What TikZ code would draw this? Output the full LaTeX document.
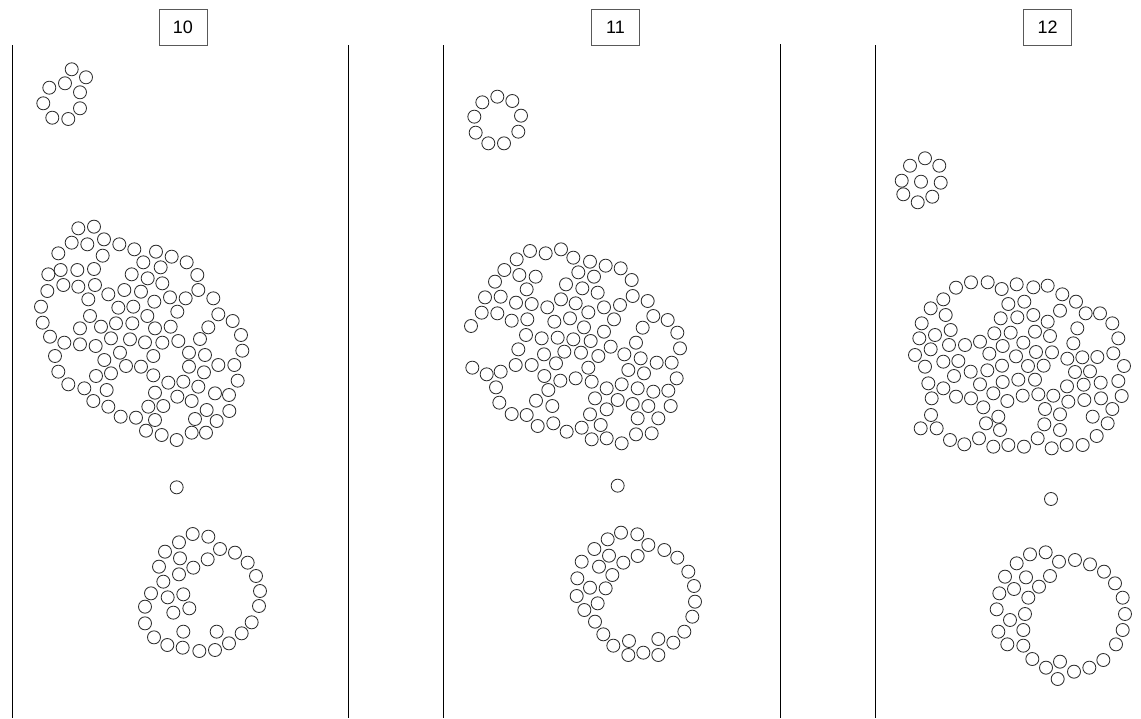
\documentclass[tikz,border=0pt]{standalone}
\usepackage{fontspec}
\setmainfont{Liberation Sans}
\usepackage{tikz}
\usetikzlibrary{positioning}
\definecolor{ballgray}{rgb}{0.18,0.18,0.18}
\definecolor{boxgray}{rgb}{0.35,0.35,0.35}

\tikzset{
  ball/.style={draw=ballgray, line width=0.85pt},
  panel/.style={draw=black, line width=0.9pt},
  stamp/.style={draw=boxgray, line width=0.8pt, minimum width=48pt, minimum height=36pt,
    inner sep=0pt, font=\fontsize{18}{21}\selectfont},
  zoomed/.style={x=0.33333pt, y=-0.33333pt}
}

\begin{document}
\begin{tikzpicture}[x=1pt, y=-1pt]
  \useasboundingbox (0,0) rectangle (1141,718);
  % Frame numbers
  \node[stamp] (lab10) at (183,27) {10};
  \node[stamp] (lab11) at (615.5,27) {11};
  \node[stamp] (lab12) at (1047.5,27) {12};
  % Panel borders
  \draw[panel] (12,45) -- (12,718);
  \draw[panel] (348,45) -- (348,718);
  \draw[panel] (443,45) -- (443,718);
  \draw[panel] (780,44) -- (780,718);
  \draw[panel] (875,45) -- (875,718);

  % ---------------- frame 10 ----------------
  \foreach \point in {(71.7,69.3), (86,77.3), (65,83.3), (49.3,87.7), (80,92.3),
      (43.3,103.3), (80,108.3), (52.3,117.7), (68.3,119)} {
    \draw[ball] \point circle (6.5pt);
  }
  \begin{scope}[shift={(25pt,-210pt)}, zoomed]
    \foreach \point in {(160,55), (207,50), (140,98), (187,103), (237,88),
        (283,103), (328,118), (100,130), (233,137), (393,125), (440,140), (485,157),
        (355,157), (407,172), (517,195), (107,180), (157,180), (207,177), (70,193),
        (320,193), (368,205), (412,220), (67,243), (115,225), (160,230), (210,225),
        (250,253), (298,240), (348,245), (520,240), (565,265),
        (190,268), (280,293), (325,290), (388,275), (435,262), (482,265), (48,290),
        (195,318), (367,318), (457,305), (580,313), (623,333), (53,338),
        (165,355), (228,350), (273,340), (322,340), (390,355), (437,350),
        (550,352), (648,375), (75,380), (118,398), (165,403), (212,408), (258,385),
        (315,388), (360,397), (412,398), (460,393), (525,387),
        (90,438), (238,450), (285,428), (385,438), (492,428), (540,435), (652,422),
        (303,468), (348,470), (580,465), (628,465), (492,470), (537,487),
        (100,485), (213,498), (258,490), (385,496), (430,518), (475,515), (520,530),
        (638,512), (130,523), (178,535), (245,540), (390,548), (457,560), (500,573),
        (570,550), (612,555), (205,573), (250,590), (370,590), (415,588), (545,600),
        (613,603), (287,620), (333,623), (390,630), (510,627), (575,633),
        (363,662), (410,675), (455,690), (500,668), (543,668)} {
      \draw[ball] \point circle (6.5pt);
    }
  \end{scope}
  \begin{scope}[shift={(130pt,-470pt)}, zoomed]
    \draw[ball] (140,52) circle (6.5pt);
    \foreach \point in {(188,192), (235,200), (147,217), (270,237), (315,248),
        (105,245), (150,265), (233,268), (353,278), (87,290), (190,293), (378,318),
        (147,313), (100,335), (390,363), (63,370), (113,382), (160,373),
        (45,410), (130,428), (178,415), (387,408), (45,460), (160,485), (260,485),
        (365,457), (72,502), (335,490), (112,525), (158,533), (208,543), (255,540),
        (297,520)} {
      \draw[ball] \point circle (6.5pt);
    }
  \end{scope}

  % ---------------- frame 11 ----------------
  \begin{scope}[shift={(430pt,0pt)}, zoomed]
    \foreach \point in {(202,290), (157,307), (247,303), (133,350), (273,347),
        (137,398), (265,395), (175,430), (222,430)} {
      \draw[ball] \point circle (6.5pt);
    }
  \end{scope}
  \begin{scope}[shift={(455pt,-235pt)}, zoomed]
    \foreach \point in {(225,48), (272,55), (318,43), (185,73), (355,68), (405,80),
        (452,92), (497,100), (148,105), (193,120), (242,125), (370,112), (417,125),
        (530,135), (120,140), (215,163), (333,148), (382,160), (428,173),
        (90,187), (137,185), (183,203), (230,207), (277,217), (318,193), (362,205),
        (447,217), (495,210), (533,183), (578,198),
        (80,233), (127,235), (170,257), (217,253), (298,260), (345,250), (400,232),
        (477,253), (595,243), (638,255), (48,273), (387,277), (447,290), (563,278),
        (667,293), (213,300), (260,310), (308,308), (355,313), (407,318), (467,335),
        (543,323), (190,343), (267,358), (328,350), (378,353), (430,363), (508,358),
        (557,370), (675,340), (52,398), (95,418), (137,410), (182,390), (230,390),
        (303,385), (400,398), (520,405), (567,415), (605,383), (650,383),
        (123,457), (268,423), (316,437), (362,430), (410,440), (455,460), (500,448),
        (548,460), (595,470), (640,467), (665,430), (280,465),
        (133,503), (243,497), (292,513), (420,490), (488,495), (533,507), (580,513),
        (647,513), (170,537), (215,540), (405,538), (455,523),
        (248,573), (295,565), (335,590), (380,578), (437,570), (548,550), (610,550),
        (410,613), (455,610), (500,625), (543,598), (590,595)} {
      \draw[ball] \point circle (6.5pt);
    }
  \end{scope}
  \begin{scope}[shift={(560pt,-470pt)}, zoomed]
    \draw[ball] (173,47) circle (6.5pt);
    \foreach \point in {(183,188), (232,193), (143,208), (265,225), (313,240),
        (103,237), (147,257), (190,278), (233,258), (352,263), (65,275), (117,290),
        (157,315), (385,305), (52,325), (90,353), (137,355), (402,348),
        (50,378), (113,400), (405,395), (73,420), (397,440), (105,455), (373,485),
        (130,493), (340,518), (160,527), (207,513), (295,507), (205,555), (250,548),
        (295,555)} {
      \draw[ball] \point circle (6.5pt);
    }
  \end{scope}

  % ---------------- frame 12 ----------------
  \foreach \point in {(925,158.3), (910,165.7), (939.3,165.7), (901.7,180.7),
      (921,181.7), (940.7,182.7), (903.3,194.3), (932.3,196.7), (917.7,202.3)} {
    \draw[ball] \point circle (6.5pt);
  }
  \begin{scope}[shift={(900pt,-265pt)}, zoomed]
    \foreach \point in {(213,52), (263,52), (168,68), (305,72), (350,58), (400,67),
        (443,62), (487,88), (528,110), (130,103), (325,117), (373,110),
        (92,130), (137,150), (302,160), (352,157), (400,150), (443,170), (480,137),
        (557,145), (600,145), (637,175), (65,175), (152,195), (283,205), (332,203),
        (405,200), (450,213), (532,190), (58,220), (105,210), (147,240), (195,240),
        (240,230), (308,243), (370,233), (520,235), (655,220),
        (45,270), (92,253), (130,290), (175,288), (268,266), (348,274), (408,261),
        (456,262), (502,281), (547,277), (592,276), (640,265),
        (75,305), (162,333), (212,320), (262,316), (306,302), (384,303), (431,302),
        (525,321), (570,319), (672,303), (85,355), (130,370), (240,358), (308,351),
        (355,344), (405,344), (501,364), (551,359), (602,353), (655,348),
        (95,400), (168,395), (213,400), (280,385), (322,408), (368,392), (415,388),
        (460,392), (505,410), (553,405), (603,400), (665,393),
        (93,450), (250,427), (295,455), (435,432), (480,448), (578,455), (637,432),
        (62,490), (110,490), (258,475), (300,495), (433,478), (480,495), (623,475),
        (150,525), (193,538), (237,520), (280,545), (325,540), (372,545), (413,520),
        (455,550), (500,540), (548,540), (590,513)} {
      \draw[ball] \point circle (6.5pt);
    }
  \end{scope}
  \begin{scope}[shift={(980pt,-480pt)}, zoomed]
    \draw[ball] (213,57) circle (6.5pt);
    \foreach \point in {(150,223), (197,217), (237,245), (285,240), (330,253),
        (372,275), (405,310), (110,250), (75,290), (138,292), (210,288), (428,353),
        (58,340), (102,327), (177,320), (145,353), (50,388), (90,420), (135,402),
        (435,402), (55,455), (130,450), (428,450), (82,493), (130,497), (408,493),
        (157,537), (370,540), (198,563), (240,545), (282,575), (328,563),
        (233,597)} {
      \draw[ball] \point circle (6.5pt);
    }
  \end{scope}
\end{tikzpicture}
\end{document}
